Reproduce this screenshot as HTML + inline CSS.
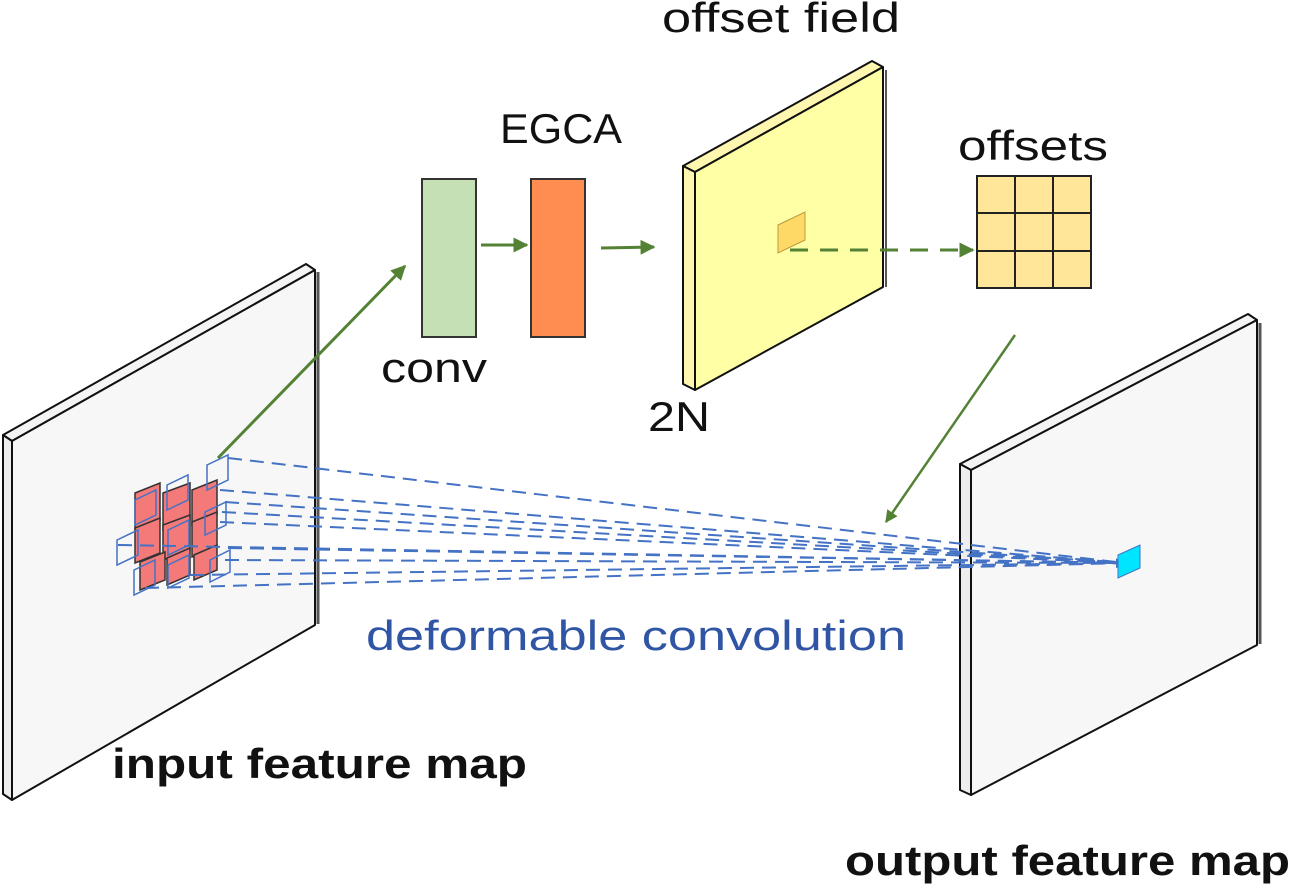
<!DOCTYPE html>
<html><head><meta charset="utf-8"><style>html,body{margin:0;padding:0;background:#fff}svg{display:block}</style></head>
<body>
<svg width="1299" height="894" viewBox="0 0 1299 894" xmlns="http://www.w3.org/2000/svg">
<defs>
<marker id="ag" viewBox="0 0 10 10" refX="9" refY="5" markerWidth="5" markerHeight="5" orient="auto"><path d="M0,0L10,5L0,10z" fill="#548235"/></marker>
<marker id="ab" viewBox="0 0 10 10" refX="9" refY="5" markerWidth="5" markerHeight="5" orient="auto"><path d="M0,0L10,5L0,10z" fill="#4472c4"/></marker>
</defs>
<g stroke="#111" stroke-width="2" stroke-linejoin="round">
<polygon points="3,435 306,264 315,270 12,441" fill="#f4f4f4"/>
<polygon points="3,435 12,441 12,800 3,794" fill="#eee"/>
<polygon points="12,441 315,270 315,625 12,800" fill="#f7f7f7"/>
<line x1="318" y1="272" x2="318" y2="624" stroke="#555" stroke-width="3"/>
<polygon points="960,464 1248,314 1257,320 971,470" fill="#f4f4f4"/>
<polygon points="960,464 971,470 971,795 960,790" fill="#eee"/>
<polygon points="971,470 1257,320 1257,645 971,795" fill="#f7f7f7"/>
<line x1="1260" y1="323" x2="1260" y2="644" stroke="#555" stroke-width="3"/>
<polygon points="683,166 872,61 883,67 695,172" fill="#fff7b0"/>
<polygon points="683,166 695,172 695,390 683,384" fill="#fff7b0"/>
<polygon points="695,172 883,67 883,287 695,390" fill="#ffffa6"/>
<line x1="886" y1="70" x2="886" y2="287" stroke="#555" stroke-width="2"/>
</g>
<polygon points="778,225 805,212 805,240 778,253" fill="#ffd966" stroke="#b89a40" stroke-width="1"/>
<rect x="422" y="179" width="54" height="158" fill="#c5e0b4" stroke="#333" stroke-width="2"/>
<rect x="531" y="179" width="54" height="158" fill="#ff8c50" stroke="#333" stroke-width="2"/>
<g stroke="#222" stroke-width="2" fill="#ffe699">
<rect x="977" y="176" width="114" height="112"/>
<line x1="1015" y1="176" x2="1015" y2="288"/><line x1="1053" y1="176" x2="1053" y2="288"/>
<line x1="977" y1="213" x2="1091" y2="213"/><line x1="977" y1="251" x2="1091" y2="251"/>
</g>
<g stroke="#548235" stroke-width="3" fill="none">
<line x1="218" y1="458" x2="405" y2="266" marker-end="url(#ag)"/>
<line x1="481" y1="245" x2="527" y2="245" marker-end="url(#ag)"/>
<line x1="601" y1="248" x2="654" y2="247" marker-end="url(#ag)"/>
<line x1="790" y1="250" x2="973" y2="250" stroke-dasharray="18,12" marker-end="url(#ag)"/>
<line x1="1015" y1="335" x2="886" y2="522" stroke-width="2.5" marker-end="url(#ag)"/>
</g>
<g fill="#f47a7a" stroke="#333" stroke-width="1.5">
<polygon points="135,493 160,483 160,520 135,530"/><polygon points="163,493 190,483 190,520 163,530"/><polygon points="192,490 217,480 217,515 192,525"/>
<polygon points="135,528 160,518 160,553 135,563"/><polygon points="163,525 190,515 190,550 163,560"/><polygon points="192,522 217,512 217,547 192,557"/>
<polygon points="140,562 165,552 165,580 140,590"/><polygon points="167,558 190,548 190,575 167,585"/><polygon points="194,555 217,545 217,570 194,580"/>
</g>
<g fill="none" stroke="#4472c4" stroke-width="1.5">
<polygon points="207,465 228,455 228,480 207,490"/>
<polygon points="167,485 188,475 188,500 167,510"/>
<polygon points="135,500 156,490 156,515 135,525"/>
<polygon points="117,540 138,530 138,555 117,565"/>
<polygon points="168,530 189,520 189,545 168,555"/>
<polygon points="205,512 226,502 226,525 205,535"/>
<polygon points="134,570 155,560 155,585 134,595"/>
<polygon points="168,565 189,555 189,578 168,588"/>
<polygon points="210,560 230,550 230,572 210,582"/>
</g>
<g stroke="#4472c4" stroke-width="2" stroke-dasharray="14,8" fill="none">
<line x1="228" y1="458" x2="1125" y2="563"/>
<line x1="220" y1="490" x2="1125" y2="563"/>
<line x1="225" y1="502" x2="1125" y2="563"/>
<line x1="222" y1="512" x2="1125" y2="563"/>
<line x1="220" y1="522" x2="1125" y2="563"/>
<line x1="118" y1="545" x2="1125" y2="563"/>
<line x1="228" y1="548" x2="1125" y2="563"/>
<line x1="225" y1="560" x2="1125" y2="563"/>
<line x1="190" y1="575" x2="1125" y2="563"/>
<line x1="145" y1="588" x2="1125" y2="563" marker-end="url(#ab)"/>
</g>
<polygon points="1118,555 1140,545 1140,568 1118,578" fill="#00e5ff" stroke="#4472c4" stroke-width="1"/>
<g font-family="Liberation Sans, sans-serif" fill="#111">
<text x="662" y="32" font-size="42" textLength="238" lengthAdjust="spacingAndGlyphs">offset field</text>
<text x="500" y="143" font-size="42" textLength="122" lengthAdjust="spacingAndGlyphs">EGCA</text>
<text x="958" y="160" font-size="42" textLength="150" lengthAdjust="spacingAndGlyphs">offsets</text>
<text x="381" y="382" font-size="42" textLength="106" lengthAdjust="spacingAndGlyphs">conv</text>
<text x="648" y="431" font-size="42" textLength="62" lengthAdjust="spacingAndGlyphs">2N</text>
<text x="366" y="650" font-size="42" fill="#2f55a4" textLength="540" lengthAdjust="spacingAndGlyphs">deformable convolution</text>
<text x="112" y="778" font-size="42" font-weight="bold" textLength="415" lengthAdjust="spacingAndGlyphs">input feature map</text>
<text x="845" y="875" font-size="42" font-weight="bold" textLength="445" lengthAdjust="spacingAndGlyphs">output feature map</text>
</g>
</svg>
</body></html>
